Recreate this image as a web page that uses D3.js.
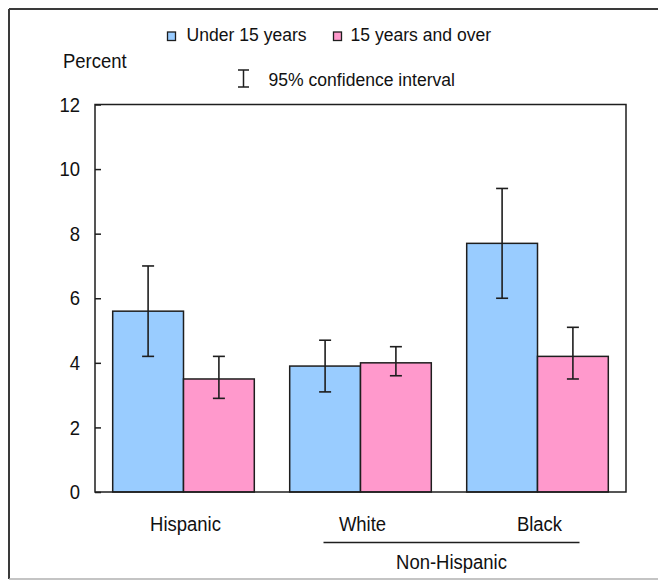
<!DOCTYPE html>
<html>
<head>
<meta charset="utf-8">
<script src="https://cdn.jsdelivr.net/npm/d3@7"></script>
<style>
  html, body { margin: 0; padding: 0; background: #fff; }
  svg { display: block; }
  text { font-family: "Liberation Sans", Arial, sans-serif; fill: #111; }
</style>
</head>
<body>
<svg id="chart" width="658" height="581"></svg>
<script>
// Percent of each group, by age, with 95% confidence limits
const groups = ["Hispanic", "White", "Black"];
const seriesNames = ["Under 15 years", "15 years and over"];
const under15 = [5.6, 3.9, 7.7];
const under15Low = [4.2, 3.1, 6.0];
const under15High = [7.0, 4.7, 9.4];
const over15 = [3.5, 4.0, 4.2];
const over15Low = [2.9, 3.6, 3.5];
const over15High = [4.2, 4.5, 5.1];
const yTicks = [0, 2, 4, 6, 8, 10, 12];

const colors = ["#99ccff", "#ff99cc"];
const ink = "#1e1e1e";

const svg = d3.select("#chart");

const plot = { left: 95, right: 626, top: 104.5, bottom: 492 };

const x = d3.scaleBand()
  .domain(groups)
  .range([plot.left, plot.right])
  .paddingInner(0.2)
  .paddingOuter(0.1);

const xSub = d3.scaleBand()
  .domain(seriesNames)
  .range([0, x.bandwidth()]);

const y = d3.scaleLinear().domain([0, 12]).range([plot.bottom, plot.top]);

// rows: one per group and series
const rows = [];
groups.forEach((g, i) => {
  rows.push({ group: g, series: seriesNames[0], value: under15[i], lo: under15Low[i], hi: under15High[i], color: colors[0] });
  rows.push({ group: g, series: seriesNames[1], value: over15[i], lo: over15Low[i], hi: over15High[i], color: colors[1] });
});

// helper: narrow text drawn with a horizontal squeeze
function label(sel, txt, px, py, size, sx, anchor) {
  return sel.append("text")
    .attr("transform", `translate(${px},${py}) scale(${sx},1)`)
    .attr("font-size", size)
    .attr("text-anchor", anchor || "start")
    .text(txt);
}

// outer frame
svg.append("line").attr("x1", 9).attr("x2", 658).attr("y1", 9).attr("y2", 9)
  .attr("stroke", "#3a3a3a").attr("stroke-width", 2);
svg.append("line").attr("x1", 9).attr("x2", 9).attr("y1", 9).attr("y2", 579)
  .attr("stroke", "#3a3a3a").attr("stroke-width", 2);
svg.append("line").attr("x1", 9).attr("x2", 658).attr("y1", 579).attr("y2", 579)
  .attr("stroke", "#b0b0b0").attr("stroke-width", 1.5);

// bars
svg.append("g").selectAll("rect")
  .data(rows)
  .join("rect")
  .attr("x", d => x(d.group) + xSub(d.series))
  .attr("y", d => y(d.value))
  .attr("width", xSub.bandwidth())
  .attr("height", d => y(0) - y(d.value))
  .attr("fill", d => d.color)
  .attr("stroke", ink)
  .attr("stroke-width", 1.5);

// confidence interval whiskers
const capHalf = 6;
const eb = svg.append("g").attr("stroke", ink).attr("stroke-width", 1.6);
rows.forEach(d => {
  const cx = x(d.group) + xSub(d.series) + xSub.bandwidth() / 2;
  eb.append("line").attr("x1", cx).attr("x2", cx).attr("y1", y(d.lo)).attr("y2", y(d.hi));
  eb.append("line").attr("x1", cx - capHalf).attr("x2", cx + capHalf).attr("y1", y(d.hi)).attr("y2", y(d.hi));
  eb.append("line").attr("x1", cx - capHalf).attr("x2", cx + capHalf).attr("y1", y(d.lo)).attr("y2", y(d.lo));
});

// plot frame
svg.append("rect")
  .attr("x", plot.left).attr("y", plot.top)
  .attr("width", plot.right - plot.left).attr("height", plot.bottom - plot.top)
  .attr("fill", "none").attr("stroke", ink).attr("stroke-width", 1.5);

// y axis with inward ticks
const yAxis = svg.append("g")
  .attr("transform", `translate(${plot.left},0)`)
  .call(d3.axisLeft(y).tickValues(yTicks).tickSize(-6).tickSizeOuter(0).tickPadding(15));
yAxis.select(".domain").remove();
yAxis.selectAll(".tick line").attr("stroke", ink).attr("stroke-width", 1.5);
yAxis.selectAll(".tick text")
  .attr("x", null)
  .attr("transform", "translate(-15,0) scale(0.88,1)")
  .attr("font-size", 21)
  .attr("font-family", "\"Liberation Sans\", Arial, sans-serif")
  .attr("fill", "#111");

// axis title
label(svg, "Percent", 63, 68, 21, 0.88);

// category labels
groups.forEach(g => {
  label(svg, g, x(g) + x.bandwidth() / 2 + 2, 531, 21, 0.88, "middle");
});

// Non-Hispanic bracket line and label
const nhLeft = x("White") + x.bandwidth() / 2 - 37;
const nhRight = x("Black") + x.bandwidth() / 2 + 42;
svg.append("line")
  .attr("x1", nhLeft).attr("x2", nhRight)
  .attr("y1", 542.5).attr("y2", 542.5)
  .attr("stroke", ink).attr("stroke-width", 1.5);
label(svg, "Non-Hispanic", (nhLeft + nhRight) / 2, 569, 21, 0.88, "middle");

// legend
const legendItems = [
  { name: seriesNames[0], color: colors[0], sx: 167.5, tx: 186.5 },
  { name: seriesNames[1], color: colors[1], sx: 333.5, tx: 350.5 }
];
legendItems.forEach(it => {
  svg.append("rect")
    .attr("x", it.sx).attr("y", 32).attr("width", 8).attr("height", 8.5)
    .attr("fill", it.color).attr("stroke", ink).attr("stroke-width", 1.3);
  label(svg, it.name, it.tx, 41, 18.5, 0.95);
});

// confidence interval key
const ciX = 243.5, ciTop = 70, ciBot = 87;
const ci = svg.append("g").attr("stroke", ink).attr("stroke-width", 1.5);
ci.append("line").attr("x1", ciX).attr("x2", ciX).attr("y1", ciTop).attr("y2", ciBot);
ci.append("line").attr("x1", ciX - 5.5).attr("x2", ciX + 5.5).attr("y1", ciTop).attr("y2", ciTop);
ci.append("line").attr("x1", ciX - 5.5).attr("x2", ciX + 5.5).attr("y1", ciBot).attr("y2", ciBot);
label(svg, "95% confidence interval", 268.5, 86, 18.5, 0.95);
</script>
</body>
</html>
